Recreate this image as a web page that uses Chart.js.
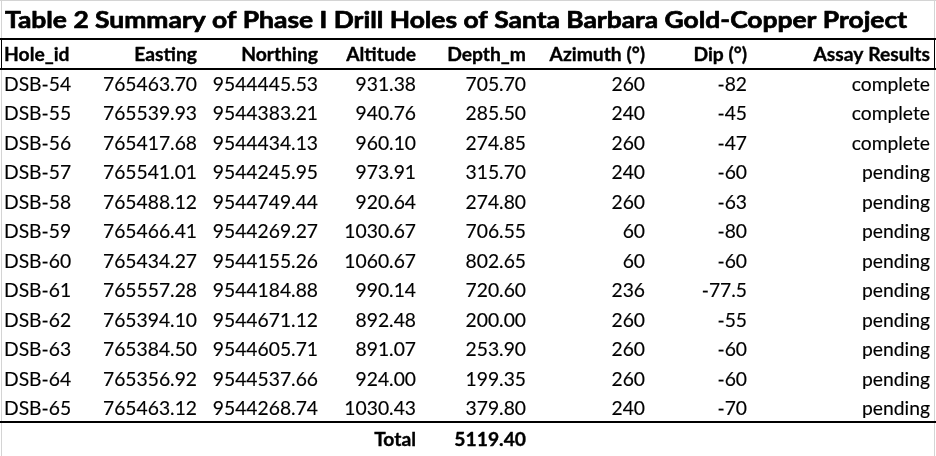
<!DOCTYPE html>
<html lang="en">
<head>
    <meta charset="UTF-8">
    <title>Phase I Drill Holes</title>
<script src="https://cdn.jsdelivr.net/npm/chart.js"></script>
<style>
    html, body { margin: 0; padding: 0; background: #fff; }
    #wrap { width: 936px; height: 456px; position: relative; }
</style>
</head>
<body>
    <div id="wrap">
        <canvas id="myChart"></canvas>
    </div>

    <script>
        // ---- data ----
        const tableTitle = "Table 2 Summary of Phase I Drill Holes of Santa Barbara Gold-Copper Project";
        const headers = ["Hole_id", "Easting", "Northing", "Altitude", "Depth_m", "Azimuth (°)", "Dip (°)", "Assay Results"];
        const holeIds = ["DSB-54", "DSB-55", "DSB-56", "DSB-57", "DSB-58", "DSB-59",
                         "DSB-60", "DSB-61", "DSB-62", "DSB-63", "DSB-64", "DSB-65"];
        const easting  = [765463.70, 765539.93, 765417.68, 765541.01, 765488.12, 765466.41,
                          765434.27, 765557.28, 765394.10, 765384.50, 765356.92, 765463.12];
        const northing = [9544445.53, 9544383.21, 9544434.13, 9544245.95, 9544749.44, 9544269.27,
                          9544155.26, 9544184.88, 9544671.12, 9544605.71, 9544537.66, 9544268.74];
        const altitude = [931.38, 940.76, 960.10, 973.91, 920.64, 1030.67,
                          1060.67, 990.14, 892.48, 891.07, 924.00, 1030.43];
        const depth    = [705.70, 285.50, 274.85, 315.70, 274.80, 706.55,
                          802.65, 720.60, 200.00, 253.90, 199.35, 379.80];
        const azimuth  = [260, 240, 260, 240, 260, 60, 60, 236, 260, 260, 260, 240];
        const dip      = [-82, -45, -47, -60, -63, -80, -60, -77.5, -55, -60, -60, -70];
        const assay    = ["complete", "complete", "complete", "pending", "pending", "pending",
                          "pending", "pending", "pending", "pending", "pending", "pending"];

        // ---- layout (table units on the hidden scales) ----
        const colX     = [4, 197, 318, 416, 526, 645, 747, 930];   // anchor of each column
        const colAlign = ["left", "right", "right", "right", "right", "right", "right", "right"];
        const titleRow = -2.17, headRow = -1, totalRow = 12.05;
        const rules    = [-1.53, -0.51, 11.46];                     // black horizontal rules
        const FONT = "Lato";
        const bodySize = 19, titleSize = 23.5;

        const fmt2 = v => v.toFixed(2);
        const columns = [
            holeIds,
            easting.map(fmt2),
            northing.map(fmt2),
            altitude.map(fmt2),
            depth.map(fmt2),
            azimuth.map(String),
            dip.map(String),
            assay
        ];
        const totalDepth = depth.reduce((a, b) => a + b, 0);

        // one scatter dataset per column, one point per cell
        const datasets = [];
        columns.forEach((col, c) => {
            datasets.push({
                data: col.map((_, i) => ({ x: colX[c], y: i })),
                texts: col, align: colAlign[c], weight: "400", thick: 0.15, size: bodySize
            });
        });
        datasets.push({
            data: headers.map((_, c) => ({ x: colX[c], y: headRow })),
            texts: headers, align: colAlign, weight: "700", thick: 0.35, size: bodySize
        });
        datasets.push({
            data: [{ x: colX[3], y: totalRow }, { x: colX[4], y: totalRow }],
            texts: ["Total", fmt2(totalDepth)], align: "right", weight: "700", thick: 0.35, size: bodySize
        });
        datasets.push({
            data: [{ x: 5, y: titleRow }],
            texts: [tableTitle], align: "left", weight: "700", thick: 0.7, size: titleSize, fitWidth: 902
        });
        datasets.forEach(d => { d.pointRadius = 0; d.pointHoverRadius = 0; d.showLine = false; });

        // the picture's glyphs are a little wider than any installed font
        function stretchFor(ctx, size) {
            ctx.font = size + "px " + FONT;
            return 94 / ctx.measureText("765463.70").width;
        }

        const tablePlugin = {
            id: "tableCells",
            afterDatasetsDraw(chart) {
                const ctx = chart.ctx;
                const ys = chart.scales.y;
                const left = chart.chartArea.left, right = chart.chartArea.right;

                // faint sheet borders
                ctx.save();
                ctx.strokeStyle = "#d4d4d4";
                ctx.lineWidth = 1;
                ctx.beginPath();
                ctx.moveTo(left, 0.5); ctx.lineTo(right, 0.5);
                ctx.moveTo(1.5, 0); ctx.lineTo(1.5, chart.height);
                ctx.moveTo(934.5, 0); ctx.lineTo(934.5, chart.height);
                ctx.stroke();

                // header side borders
                ctx.strokeStyle = "#000";
                ctx.beginPath();
                ctx.moveTo(1.5, ys.getPixelForValue(rules[0])); ctx.lineTo(1.5, ys.getPixelForValue(rules[1]));
                ctx.moveTo(934.5, ys.getPixelForValue(rules[0])); ctx.lineTo(934.5, ys.getPixelForValue(rules[1]));
                ctx.stroke();

                ctx.lineWidth = 2;
                ctx.beginPath();
                rules.forEach(r => {
                    const py = Math.round(ys.getPixelForValue(r));
                    ctx.moveTo(left, py); ctx.lineTo(right, py);
                });
                ctx.stroke();
                ctx.restore();

                const bodySx = stretchFor(ctx, bodySize);
                chart.data.datasets.forEach((ds, di) => {
                    const meta = chart.getDatasetMeta(di);
                    ctx.save();
                    ctx.fillStyle = "#000";
                    ctx.strokeStyle = "#000";
                    ctx.lineJoin = "round";
                    ctx.textBaseline = "alphabetic";
                    ctx.font = ds.weight + " " + ds.size + "px " + FONT;
                    meta.data.forEach((pt, i) => {
                        const text = ds.texts[i];
                        let sx = bodySx;
                        if (ds.fitWidth) sx = ds.fitWidth / ctx.measureText(text).width;
                        const align = Array.isArray(ds.align) ? ds.align[i] : ds.align;
                        ctx.save();
                        ctx.translate(pt.x, pt.y + ds.size * 0.358);
                        ctx.scale(sx, 1);
                        ctx.textAlign = align;
                        ctx.fillText(text, 0, 0);
                        if (ds.thick > 0) {
                            ctx.lineWidth = ds.thick;
                            ctx.strokeText(text, 0, 0);
                        }
                        ctx.restore();
                    });
                    ctx.restore();
                });
            }
        };

        const ctx = document.getElementById("myChart");
        const drillChart = new Chart(ctx, {
            type: "scatter",
            data: { datasets: datasets },
            options: {
                responsive: true,
                maintainAspectRatio: false,
                animation: false,
                events: [],
                layout: { padding: 0 },
                plugins: { legend: { display: false }, tooltip: { enabled: false } },
                scales: {
                    x: { type: "linear", display: false, min: 0, max: 936 },
                    y: { type: "linear", display: false, reverse: true, min: -84 / 29.5, max: (456 - 84) / 29.5 }
                }
            },
            plugins: [tablePlugin]
        });
    </script>
</body>
</html>
